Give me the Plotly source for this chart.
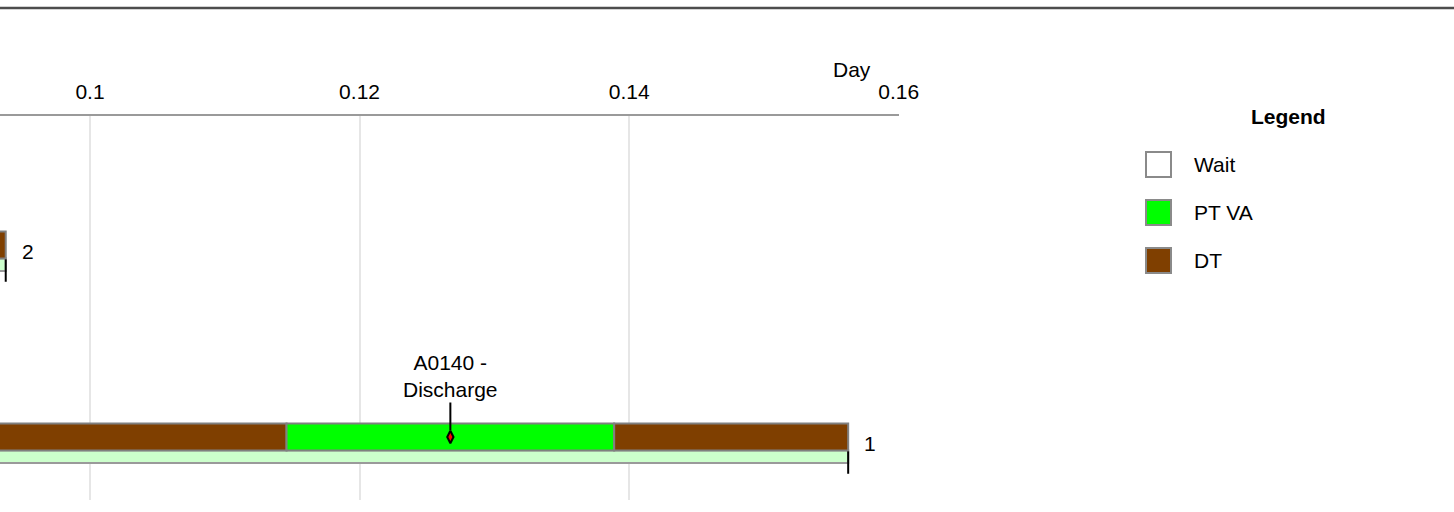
import plotly.graph_objects as go

# ---- data (times in minutes, converted to days) ----
rows = [1, 2]
row_labels = ["1", "2"]

seg_row = [1, 1, 1, 2]
seg_kind = ["DT", "PT VA", "DT", "DT"]
seg_start_min = [120, 165, 200, 90]
seg_end_min = [165, 200, 225, 135]

elapsed_start_min = [0, 0]
elapsed_end_min = [225, 135]

event_row = [1]
event_min = [182.5]
event_text = ["A0140 -<br>Discharge"]

legend_names = ["Wait", "PT VA", "DT"]
legend_colors = ["#ffffff", "#00ff00", "#7f3f00"]

tick_vals = [0.08, 0.1, 0.12, 0.14, 0.16]
tick_text = ["0.08", "0.1", "0.12", "0.14", "0.16"]

MIN_PER_DAY = 1440.0
color_of = dict(zip(legend_names, legend_colors))

FONT = "Arial, Liberation Sans, sans-serif"
FS = 21

fig = go.Figure()

# elapsed (light green) bars
for r, s, e in zip(rows, elapsed_start_min, elapsed_end_min):
    fig.add_trace(go.Bar(
        orientation="h", y=[r - 0.102], base=[s / MIN_PER_DAY],
        x=[(e - s) / MIN_PER_DAY], width=[0.066],
        marker=dict(color="#ccffcc", line=dict(color="#9a9a9a", width=2)),
        hoverinfo="skip", showlegend=False))

# main segments
for r, k, s, e in zip(seg_row, seg_kind, seg_start_min, seg_end_min):
    fig.add_trace(go.Bar(
        orientation="h", y=[r], base=[s / MIN_PER_DAY],
        x=[(e - s) / MIN_PER_DAY], width=[0.14],
        marker=dict(color=color_of[k], line=dict(color="#808080", width=2)),
        name=k, showlegend=False))

# end ticks on elapsed bars
fig.add_trace(go.Scatter(
    x=[e / MIN_PER_DAY for e in elapsed_end_min], y=[r - 0.133 for r in rows],
    mode="markers",
    marker=dict(symbol="line-ns", size=16, line=dict(color="black", width=2)),
    hoverinfo="skip", showlegend=False))

# event diamonds
fig.add_trace(go.Scatter(
    x=[m / MIN_PER_DAY for m in event_min], y=event_row, mode="markers",
    marker=dict(symbol="diamond-tall", size=9, color="red",
                line=dict(color="black", width=2)),
    hoverinfo="skip", showlegend=False))

annotations = []
for r, lab, e in zip(rows, row_labels, elapsed_end_min):
    annotations.append(dict(x=e / MIN_PER_DAY, y=r, xref="x", yref="y", text=lab,
                            showarrow=False, xanchor="left", yanchor="middle",
                            xshift=14, yshift=-6, font=dict(size=FS, color="black")))
for r, m, t in zip(event_row, event_min, event_text):
    annotations.append(dict(x=m / MIN_PER_DAY, y=r, xref="x", yref="y", text=t,
                            showarrow=True, arrowhead=0, arrowwidth=2, arrowcolor="black",
                            ax=0, ay=-61, standoff=7, font=dict(size=FS, color="black")))

# pixel helpers for layout furniture (plot area: x 0..899, y 116..500)
PW, PT, PB = 899.0, 116.0, 500.0
def px(xp):
    return xp / PW
def py(yp):
    return (PB - yp) / (PB - PT)

annotations.append(dict(x=px(852), y=py(69), xref="paper", yref="paper", text="Day",
                        showarrow=False, xanchor="center", yanchor="middle",
                        font=dict(size=FS, color="black")))
annotations.append(dict(x=px(1288), y=py(116), xref="paper", yref="paper",
                        text="<b>Legend</b>", showarrow=False, xanchor="center",
                        yanchor="middle", font=dict(size=FS, color="black")))

shapes = [dict(type="line", xref="paper", yref="paper", x0=0, x1=px(1454),
               y0=py(8), y1=py(8), line=dict(color="#4d4d4d", width=2.5))]
for i, (n, c) in enumerate(zip(legend_names, legend_colors)):
    yc = 164.5 + i * 48
    shapes.append(dict(type="rect", xref="paper", yref="paper",
                       x0=px(1146), x1=px(1171), y0=py(yc + 12.5), y1=py(yc - 12.5),
                       fillcolor=c, line=dict(color="#8a8a8a", width=2)))
    annotations.append(dict(x=px(1192), y=py(yc), xref="paper", yref="paper", text=n,
                            showarrow=False, xanchor="left", yanchor="middle",
                            font=dict(size=FS, color="black")))

x0 = 0.1 - 90 / 13483.0
fig.update_layout(
    width=1454, height=512,
    margin=dict(l=0, r=555, t=116, b=12),
    paper_bgcolor="white", plot_bgcolor="white",
    font=dict(family=FONT, size=FS, color="black"),
    barmode="overlay", showlegend=False,
    annotations=annotations, shapes=shapes,
    xaxis=dict(side="top", range=[x0, 0.16002], tickvals=tick_vals, ticktext=tick_text,
               showgrid=True, gridcolor="#e6e6e6", gridwidth=1.5,
               showline=True, linecolor="#9a9a9a", linewidth=2,
               ticks="", ticklabelstandoff=7, zeroline=False,
               tickfont=dict(size=FS, color="black")),
    yaxis=dict(range=[0.672, 2.672], visible=False, showgrid=False, zeroline=False),
)

fig.write_html("out.html", config={"displayModeBar": False},
               post_script="document.body.style.margin='0';")
